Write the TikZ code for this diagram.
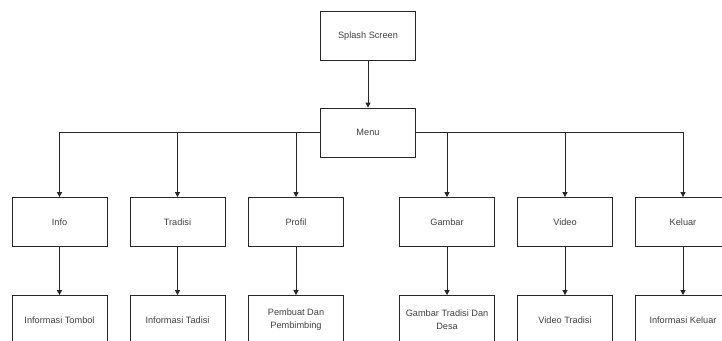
\documentclass[tikz,border=0pt]{standalone}
\usepackage{fontspec}
\setmainfont{Liberation Sans}
\usetikzlibrary{arrows.meta}
\tikzset{
  box/.style={draw=black!85, line width=0.8pt, minimum width=95pt, minimum height=49pt, inner sep=1pt, align=center, text=black!75, font=\fontsize{9.2}{13}\selectfont},
  link/.style={draw=black!85, line width=0.8pt, -{Triangle[length=5pt,width=5pt]}},
}
\begin{document}
\begin{tikzpicture}[x=1pt,y=-1pt]
\useasboundingbox (0,0) rectangle (722,340);
\clip (0,0) rectangle (722,340);
\node[box] (splash) at (368,36) {Splash Screen};
\node[box] (menu) at (368,132.5) {Menu};
\node[box] (info) at (59.5,222) {Info};
\node[box] (tradisi) at (177.5,222) {Tradisi};
\node[box] (profil) at (296,222) {Profil};
\node[box] (gambar) at (447,222) {Gambar};
\node[box] (video) at (565,222) {Video};
\node[box] (keluar) at (683,222) {Keluar};
\node[box] (binfo) at (59.5,320) {Informasi Tombol};
\node[box] (btradisi) at (177.5,320) {Informasi Tadisi};
\node[box] (bprofil) at (296,320) {Pembuat Dan\\Pembimbing};
\node[box] (bgambar) at (447,320) {Gambar Tradisi Dan\\Desa};
\node[box] (bvideo) at (565,320) {Video Tradisi};
\node[box] (bkeluar) at (683,320) {Informasi Keluar};
\draw[link] (splash) -- (menu);
\foreach \n in {info,tradisi,profil}{
  \draw[link] (menu.west) -| (\n.north);
}
\foreach \n in {gambar,video,keluar}{
  \draw[link] (menu.east) -| (\n.north);
}
\draw[link] (info) -- (binfo);
\draw[link] (tradisi) -- (btradisi);
\draw[link] (profil) -- (bprofil);
\draw[link] (gambar) -- (bgambar);
\draw[link] (video) -- (bvideo);
\draw[link] (keluar) -- (bkeluar);
\end{tikzpicture}
\end{document}
